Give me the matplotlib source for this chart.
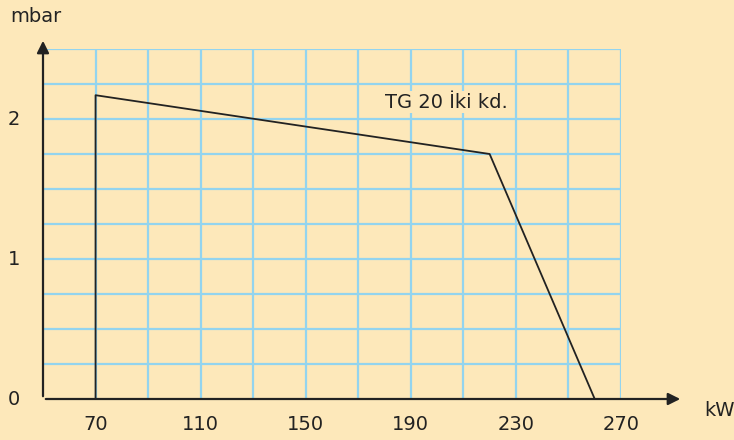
import numpy as np
import matplotlib
matplotlib.use("Agg")
from matplotlib import pyplot as plt

# kennlinie (kW, mbar)
kw = [70, 70, 220, 260]
mbar = [0, 2.17, 1.75, 0]
x_ticks = [70, 110, 150, 190, 230, 270]
y_ticks = [0, 1, 2]
label = "TG 20 İki kd."

bg = "#FDE8BA"
grid_c = "#93D4EF"
ink = "#222222"

plt.rcParams['font.family'] = ['DejaVu Sans']
fs = 14

fig = plt.figure(figsize=(7.34, 4.4), dpi=100, facecolor=bg)
ax = fig.add_axes([43/734, 41/440, 578/734, 350/440])
ax.set_facecolor(bg)
ax.set_xlim(50, 270)
ax.set_ylim(0, 2.5)

for gx in np.arange(70, 271, 20):
    ax.axvline(gx, color=grid_c, lw=1.6, zorder=1)
for gy in np.arange(0.25, 2.51, 0.25):
    ax.axhline(gy, color=grid_c, lw=1.6, zorder=1)

ax.plot(kw, mbar, color=ink, lw=1.3, zorder=3)

ax.text(180, 2.12, label, fontsize=fs, color=ink, va='center', ha='left', zorder=4,
        bbox=dict(facecolor=bg, edgecolor='none', pad=1))

for s in ax.spines.values():
    s.set_visible(False)
ax.set_xticks([])
ax.set_yticks([])

# axes with arrows
ax.annotate("", xy=(683/734, 41/440), xytext=(43/734, 41/440), xycoords='figure fraction',
            arrowprops=dict(arrowstyle='-|>', color=ink, lw=1.6, mutation_scale=18))
ax.annotate("", xy=(43/734, 402/440), xytext=(43/734, 41/440), xycoords='figure fraction',
            arrowprops=dict(arrowstyle='-|>', color=ink, lw=1.6, mutation_scale=18))

for t in x_ticks:
    ax.text(t, -0.18, str(t), fontsize=fs, color=ink, ha='center', va='center')
for t in y_ticks:
    ax.text(39, t, str(t), fontsize=fs, color=ink, ha='center', va='center')

fig.text(10/734, 1 - 17/440, "mbar", fontsize=fs, color=ink, ha='left', va='center')
fig.text(704/734, 1 - 410/440, "kW", fontsize=fs, color=ink, ha='left', va='center')

fig.savefig("out.png", dpi=100, facecolor=bg)
